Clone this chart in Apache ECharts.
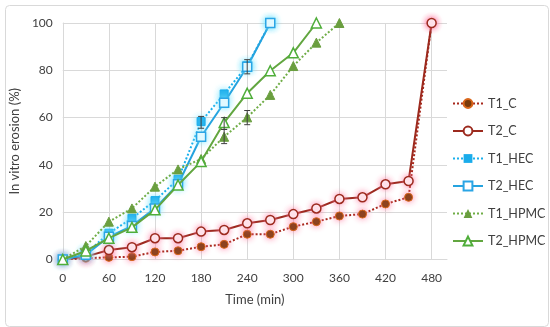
<!DOCTYPE html>
<html><head><meta charset="utf-8">
<script src="https://cdn.jsdelivr.net/npm/echarts@6/dist/echarts.min.js"></script>
<style>html,body{margin:0;padding:0;background:#fff}#c{width:550px;height:327px}</style>
</head><body><div id="c"></div>
<script>
// ---- data ----
const timesC = [0,30,60,90,120,150,180,210,240,270,300,330,360,390,420,450,480];
const T1_C = [0,0.5,0.9,1.2,3.2,3.7,5.4,6.4,10.7,10.7,13.9,16.0,18.4,19.2,23.5,26.3,100];
const T2_C = [0,1.2,4.0,5.2,9.0,9.0,11.8,12.5,15.3,16.7,19.2,21.6,25.6,26.3,31.8,33.2,100];
const timesHEC = [0,30,60,90,120,150,180,210,240,270];
const T1_HEC = [0,2.5,11.1,17.4,24.9,33.9,58.3,70.0,82.0,100];
const T2_HEC = [0,2.0,9.6,14.2,21.6,31.8,51.9,66.3,81.5,100];
const timesT1HPMC = [0,30,60,90,120,150,180,210,240,270,300,330,360];
const T1_HPMC = [0,5.7,16.0,21.6,30.8,38.1,42.5,51.9,60.1,69.6,81.8,91.7,100];
const timesT2HPMC = [0,30,60,90,120,150,180,210,240,270,300,330];
const T2_HPMC = [0,3.6,9.0,13.6,21.0,31.5,41.4,57.9,70.3,79.8,87.4,100];
// error bars: [time, low, high]
const errorBars = [[180,55.5,60.5],[210,49.0,55.0],[210,55.0,60.0],[240,57.0,63.0],[240,78.5,84.5]];
const xTicks = {min:0, max:500, interval:60};
const yTicks = {min:0, max:100, interval:20};

const pair = (t, v) => t.map((x, i) => [x, v[i]]);
const FONT = 'Lato, "Open Sans", sans-serif';
const chart = echarts.init(document.getElementById('c'), null, {renderer:'canvas'});

function glow(c){ return {shadowBlur:6, shadowColor:c}; }

const option = {
  animation:false,
  textStyle:{fontFamily:FONT},
  graphic:[{type:'rect', left:3, top:3, shape:{width:543, height:321, r:4}, style:{fill:'none', stroke:'#D9D9D9', lineWidth:1}, silent:true}],
  grid:{left:58, right:103, top:23, bottom:67.5, containLabel:false},
  xAxis:{type:'value', min:xTicks.min, max:xTicks.max, interval:xTicks.interval,
    name:'Time (min)', nameLocation:'middle', nameGap:34,
    nameTextStyle:{fontSize:13, color:'#404040', fontFamily:FONT},
    axisLine:{show:true, onZero:false, lineStyle:{color:'#D9D9D9'}},
    axisTick:{show:false},
    axisLabel:{fontSize:12, color:'#404040', margin:13, showMaxLabel:false, fontFamily:FONT},
    splitLine:{show:true, showMaxLine:false, lineStyle:{color:'#D9D9D9', width:1}}},
  yAxis:{type:'value', min:yTicks.min, max:yTicks.max, interval:yTicks.interval,
    name:'In vitro erosion (%)', nameLocation:'middle', nameGap:40, nameRotate:90,
    nameTextStyle:{fontSize:13, color:'#404040', fontFamily:FONT},
    axisLine:{show:true, lineStyle:{color:'#D9D9D9'}},
    axisTick:{show:false},
    axisLabel:{fontSize:12, color:'#404040', margin:10, fontFamily:FONT},
    splitLine:{show:true, lineStyle:{color:'#D9D9D9', width:1}}},
  legend:{orient:'vertical', left:447, top:92, itemWidth:30, itemHeight:11, itemGap:14.5,
    textStyle:{fontSize:12.5, color:'#404040', fontFamily:FONT},
    data:['T1_C','T2_C','T1_HEC','T2_HEC','T1_HPMC','T2_HPMC']},
  series:[
    {name:'T1_C', type:'line', data:pair(timesC,T1_C), symbol:'circle', symbolSize:8,
      lineStyle:{color:'#A8281C', width:2, type:'dotted'},
      itemStyle:Object.assign({color:'#7A3A0A', borderColor:'#D9661A', borderWidth:1}, glow('rgba(255,120,160,0.9)')), z:3},
    {name:'T2_C', type:'line', data:pair(timesC,T2_C), symbol:'circle', symbolSize:9,
      lineStyle:{color:'#9C2A1E', width:2},
      itemStyle:Object.assign({color:'#fff', borderColor:'#9C2A1E', borderWidth:1.5}, glow('rgba(255,120,160,0.9)')), z:4},
    {name:'T1_HEC', type:'line', data:pair(timesHEC,T1_HEC), symbol:'rect', symbolSize:8,
      lineStyle:{color:'#1AB0EC', width:2, type:'dotted'},
      itemStyle:Object.assign({color:'#1AACEB', borderColor:'#1AACEB'}, glow('rgba(120,230,255,0.9)')), z:5},
    {name:'T2_HEC', type:'line', data:pair(timesHEC,T2_HEC), symbol:'rect', symbolSize:9,
      lineStyle:{color:'#25A3DF', width:2},
      itemStyle:Object.assign({color:'#fff', borderColor:'#2AA5E5', borderWidth:1.5}, glow('rgba(120,230,255,0.9)')), z:6},
    {name:'T1_HPMC', type:'line', data:pair(timesT1HPMC,T1_HPMC), symbol:'triangle', symbolSize:9,
      lineStyle:{color:'#70AD47', width:2, type:'dotted'},
      itemStyle:{color:'#6A9E3F', borderColor:'#6A9E3F'}, z:7},
    {name:'T2_HPMC', type:'line', data:pair(timesT2HPMC,T2_HPMC), symbol:'triangle', symbolSize:10,
      lineStyle:{color:'#62A640', width:2},
      itemStyle:{color:'#fff', borderColor:'#4FAE3A', borderWidth:1.5}, z:8},
    {name:'err', type:'custom', data:errorBars, z:9, silent:true,
      renderItem:function(params, api){
        const x = api.value(0);
        const lo = api.coord([x, api.value(1)]);
        const hi = api.coord([x, api.value(2)]);
        const w = 3;
        const st = {stroke:'#404040', lineWidth:1};
        return {type:'group', children:[
          {type:'line', shape:{x1:lo[0], y1:lo[1], x2:hi[0], y2:hi[1]}, style:st},
          {type:'line', shape:{x1:lo[0]-w, y1:lo[1], x2:lo[0]+w, y2:lo[1]}, style:st},
          {type:'line', shape:{x1:hi[0]-w, y1:hi[1], x2:hi[0]+w, y2:hi[1]}, style:st}
        ]};
      }}
  ]
};
chart.setOption(option);
</script></body></html>
